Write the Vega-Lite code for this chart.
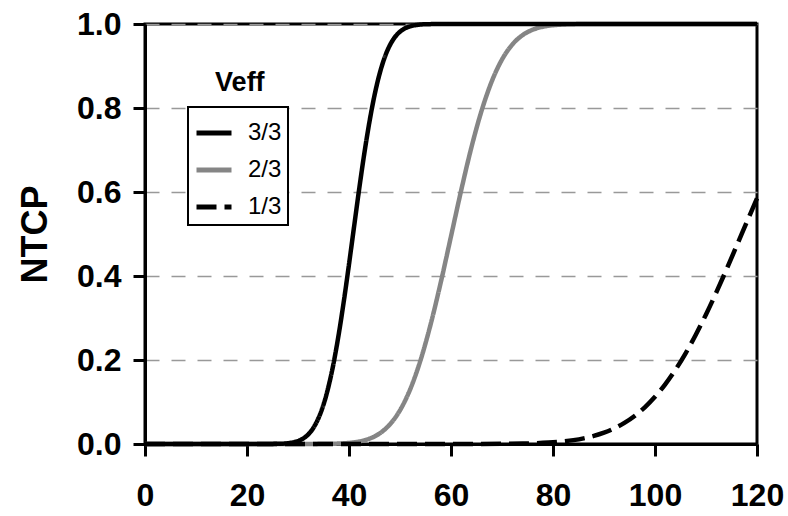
{
  "$schema": "https://vega.github.io/schema/vega-lite/v6.json",
  "width": 612,
  "height": 420,
  "autosize": {"type": "none"},
  "padding": {"left": 145, "top": 24, "right": 31, "bottom": 72},
  "background": "white",
  "config": {
    "font": "Liberation Sans",
    "view": {"stroke": "black", "strokeWidth": 3},
    "axis": {
      "domainColor": "black", "domainWidth": 3,
      "tickColor": "black", "tickWidth": 3, "tickSize": 12,
      "labelFont": "Liberation Sans", "labelFontSize": 32, "labelFontWeight": "bold", "labelColor": "black",
      "titleFont": "Liberation Sans", "titleFontSize": 36, "titleFontWeight": "bold", "titleColor": "black",
      "labelFlush": false, "labelOverlap": false
    },
    "legend": {
      "orient": "none", "legendX": 43, "legendY": 83,
      "symbolType": "stroke", "symbolSize": 1225, "symbolStrokeWidth": 5,
      "labelFont": "Liberation Sans", "labelFontSize": 24, "labelColor": "black",
      "labelOffset": 14, "rowPadding": 5, "padding": 6,
      "strokeColor": "black", "fillColor": "white"
    }
  },
  "layer": [
    {
      "data": {"values": [
        {"veff": "2/3", "dose": 0, "ntcp": 0},
        {"veff": "2/3", "dose": 20, "ntcp": 0},
        {"veff": "2/3", "dose": 36, "ntcp": 0.0004},
        {"veff": "2/3", "dose": 38, "ntcp": 0.0011},
        {"veff": "2/3", "dose": 40, "ntcp": 0.0026},
        {"veff": "2/3", "dose": 42, "ntcp": 0.006},
        {"veff": "2/3", "dose": 44, "ntcp": 0.0127},
        {"veff": "2/3", "dose": 46, "ntcp": 0.0251},
        {"veff": "2/3", "dose": 48, "ntcp": 0.0464},
        {"veff": "2/3", "dose": 50, "ntcp": 0.0803},
        {"veff": "2/3", "dose": 52, "ntcp": 0.1303},
        {"veff": "2/3", "dose": 54, "ntcp": 0.1985},
        {"veff": "2/3", "dose": 56, "ntcp": 0.2846},
        {"veff": "2/3", "dose": 58, "ntcp": 0.3851},
        {"veff": "2/3", "dose": 60, "ntcp": 0.4944},
        {"veff": "2/3", "dose": 62, "ntcp": 0.6041},
        {"veff": "2/3", "dose": 64, "ntcp": 0.7061},
        {"veff": "2/3", "dose": 66, "ntcp": 0.7936},
        {"veff": "2/3", "dose": 68, "ntcp": 0.8636},
        {"veff": "2/3", "dose": 70, "ntcp": 0.9154},
        {"veff": "2/3", "dose": 72, "ntcp": 0.9508},
        {"veff": "2/3", "dose": 74, "ntcp": 0.9732},
        {"veff": "2/3", "dose": 76, "ntcp": 0.9863},
        {"veff": "2/3", "dose": 78, "ntcp": 0.9935},
        {"veff": "2/3", "dose": 80, "ntcp": 0.9971},
        {"veff": "2/3", "dose": 82, "ntcp": 0.9988},
        {"veff": "2/3", "dose": 86, "ntcp": 0.9999},
        {"veff": "2/3", "dose": 90, "ntcp": 1},
        {"veff": "2/3", "dose": 120, "ntcp": 1},
        {"veff": "3/3", "dose": 0, "ntcp": 0},
        {"veff": "3/3", "dose": 20, "ntcp": 0},
        {"veff": "3/3", "dose": 26, "ntcp": 0.0004},
        {"veff": "3/3", "dose": 28, "ntcp": 0.0018},
        {"veff": "3/3", "dose": 29, "ntcp": 0.0037},
        {"veff": "3/3", "dose": 30, "ntcp": 0.0071},
        {"veff": "3/3", "dose": 31, "ntcp": 0.013},
        {"veff": "3/3", "dose": 32, "ntcp": 0.0228},
        {"veff": "3/3", "dose": 33, "ntcp": 0.0381},
        {"veff": "3/3", "dose": 34, "ntcp": 0.0612},
        {"veff": "3/3", "dose": 35, "ntcp": 0.0937},
        {"veff": "3/3", "dose": 36, "ntcp": 0.1378},
        {"veff": "3/3", "dose": 37, "ntcp": 0.1938},
        {"veff": "3/3", "dose": 38, "ntcp": 0.2624},
        {"veff": "3/3", "dose": 39, "ntcp": 0.3413},
        {"veff": "3/3", "dose": 40, "ntcp": 0.4278},
        {"veff": "3/3", "dose": 41, "ntcp": 0.518},
        {"veff": "3/3", "dose": 42, "ntcp": 0.6075},
        {"veff": "3/3", "dose": 43, "ntcp": 0.6915},
        {"veff": "3/3", "dose": 44, "ntcp": 0.7663},
        {"veff": "3/3", "dose": 45, "ntcp": 0.8301},
        {"veff": "3/3", "dose": 46, "ntcp": 0.8814},
        {"veff": "3/3", "dose": 47, "ntcp": 0.9206},
        {"veff": "3/3", "dose": 48, "ntcp": 0.9491},
        {"veff": "3/3", "dose": 49, "ntcp": 0.9688},
        {"veff": "3/3", "dose": 50, "ntcp": 0.9817},
        {"veff": "3/3", "dose": 51, "ntcp": 0.9898},
        {"veff": "3/3", "dose": 52, "ntcp": 0.9945},
        {"veff": "3/3", "dose": 53, "ntcp": 0.9972},
        {"veff": "3/3", "dose": 54, "ntcp": 0.9987},
        {"veff": "3/3", "dose": 56, "ntcp": 0.9997},
        {"veff": "3/3", "dose": 60, "ntcp": 1},
        {"veff": "3/3", "dose": 120, "ntcp": 1},
        {"veff": "1/3", "dose": 0, "ntcp": 0},
        {"veff": "1/3", "dose": 20, "ntcp": 0},
        {"veff": "1/3", "dose": 40, "ntcp": 0},
        {"veff": "1/3", "dose": 60, "ntcp": 0},
        {"veff": "1/3", "dose": 70, "ntcp": 0.0004},
        {"veff": "1/3", "dose": 74, "ntcp": 0.0011},
        {"veff": "1/3", "dose": 76, "ntcp": 0.0017},
        {"veff": "1/3", "dose": 78, "ntcp": 0.0027},
        {"veff": "1/3", "dose": 80, "ntcp": 0.0041},
        {"veff": "1/3", "dose": 82, "ntcp": 0.0062},
        {"veff": "1/3", "dose": 84, "ntcp": 0.0092},
        {"veff": "1/3", "dose": 86, "ntcp": 0.0134},
        {"veff": "1/3", "dose": 88, "ntcp": 0.0192},
        {"veff": "1/3", "dose": 90, "ntcp": 0.0269},
        {"veff": "1/3", "dose": 92, "ntcp": 0.037},
        {"veff": "1/3", "dose": 94, "ntcp": 0.0502},
        {"veff": "1/3", "dose": 96, "ntcp": 0.0668},
        {"veff": "1/3", "dose": 98, "ntcp": 0.0874},
        {"veff": "1/3", "dose": 100, "ntcp": 0.1123},
        {"veff": "1/3", "dose": 102, "ntcp": 0.142},
        {"veff": "1/3", "dose": 104, "ntcp": 0.1765},
        {"veff": "1/3", "dose": 106, "ntcp": 0.216},
        {"veff": "1/3", "dose": 108, "ntcp": 0.2601},
        {"veff": "1/3", "dose": 110, "ntcp": 0.3085},
        {"veff": "1/3", "dose": 112, "ntcp": 0.3605},
        {"veff": "1/3", "dose": 114, "ntcp": 0.4152},
        {"veff": "1/3", "dose": 116, "ntcp": 0.4716},
        {"veff": "1/3", "dose": 118, "ntcp": 0.5283},
        {"veff": "1/3", "dose": 120, "ntcp": 0.5848}
      ]},
      "mark": {"type": "line", "strokeWidth": 4.5, "interpolate": "monotone"},
      "encoding": {
        "x": {
          "field": "dose", "type": "quantitative",
          "scale": {"domain": [0, 120], "nice": false, "zero": false},
          "axis": {"values": [0, 20, 40, 60, 80, 100, 120], "format": "d", "grid": false, "title": null, "labelPadding": 24}
        },
        "y": {
          "field": "ntcp", "type": "quantitative",
          "scale": {"domain": [0, 1], "nice": false},
          "axis": {"values": [0, 0.2, 0.4, 0.6, 0.8, 1.0], "format": ".1f", "grid": true, "gridColor": "#999999", "gridDash": [14, 12], "gridWidth": 1.5, "labelPadding": 12, "title": "NTCP", "titlePadding": 22}
        },
        "color": {
          "field": "veff", "type": "nominal",
          "scale": {"domain": ["3/3", "2/3", "1/3"], "range": ["black", "#858585", "black"]},
          "legend": {"title": null, "encode": {"legend": {"update": {"strokeWidth": {"value": 2}}}}}
        },
        "strokeDash": {
          "field": "veff", "type": "nominal",
          "scale": {"domain": ["3/3", "2/3", "1/3"], "range": [[1, 0], [1, 0], [20, 8]]},
          "legend": {"title": null}
        }
      }
    },
    {
      "data": {"values": [{"dose": 18.6, "ntcp": 0.86, "label": "Veff"}]},
      "mark": {"type": "text", "fontSize": 27, "fontWeight": "bold", "align": "center", "baseline": "middle", "color": "black"},
      "encoding": {
        "x": {"field": "dose", "type": "quantitative"},
        "y": {"field": "ntcp", "type": "quantitative"},
        "text": {"field": "label"}
      }
    }
  ]
}
